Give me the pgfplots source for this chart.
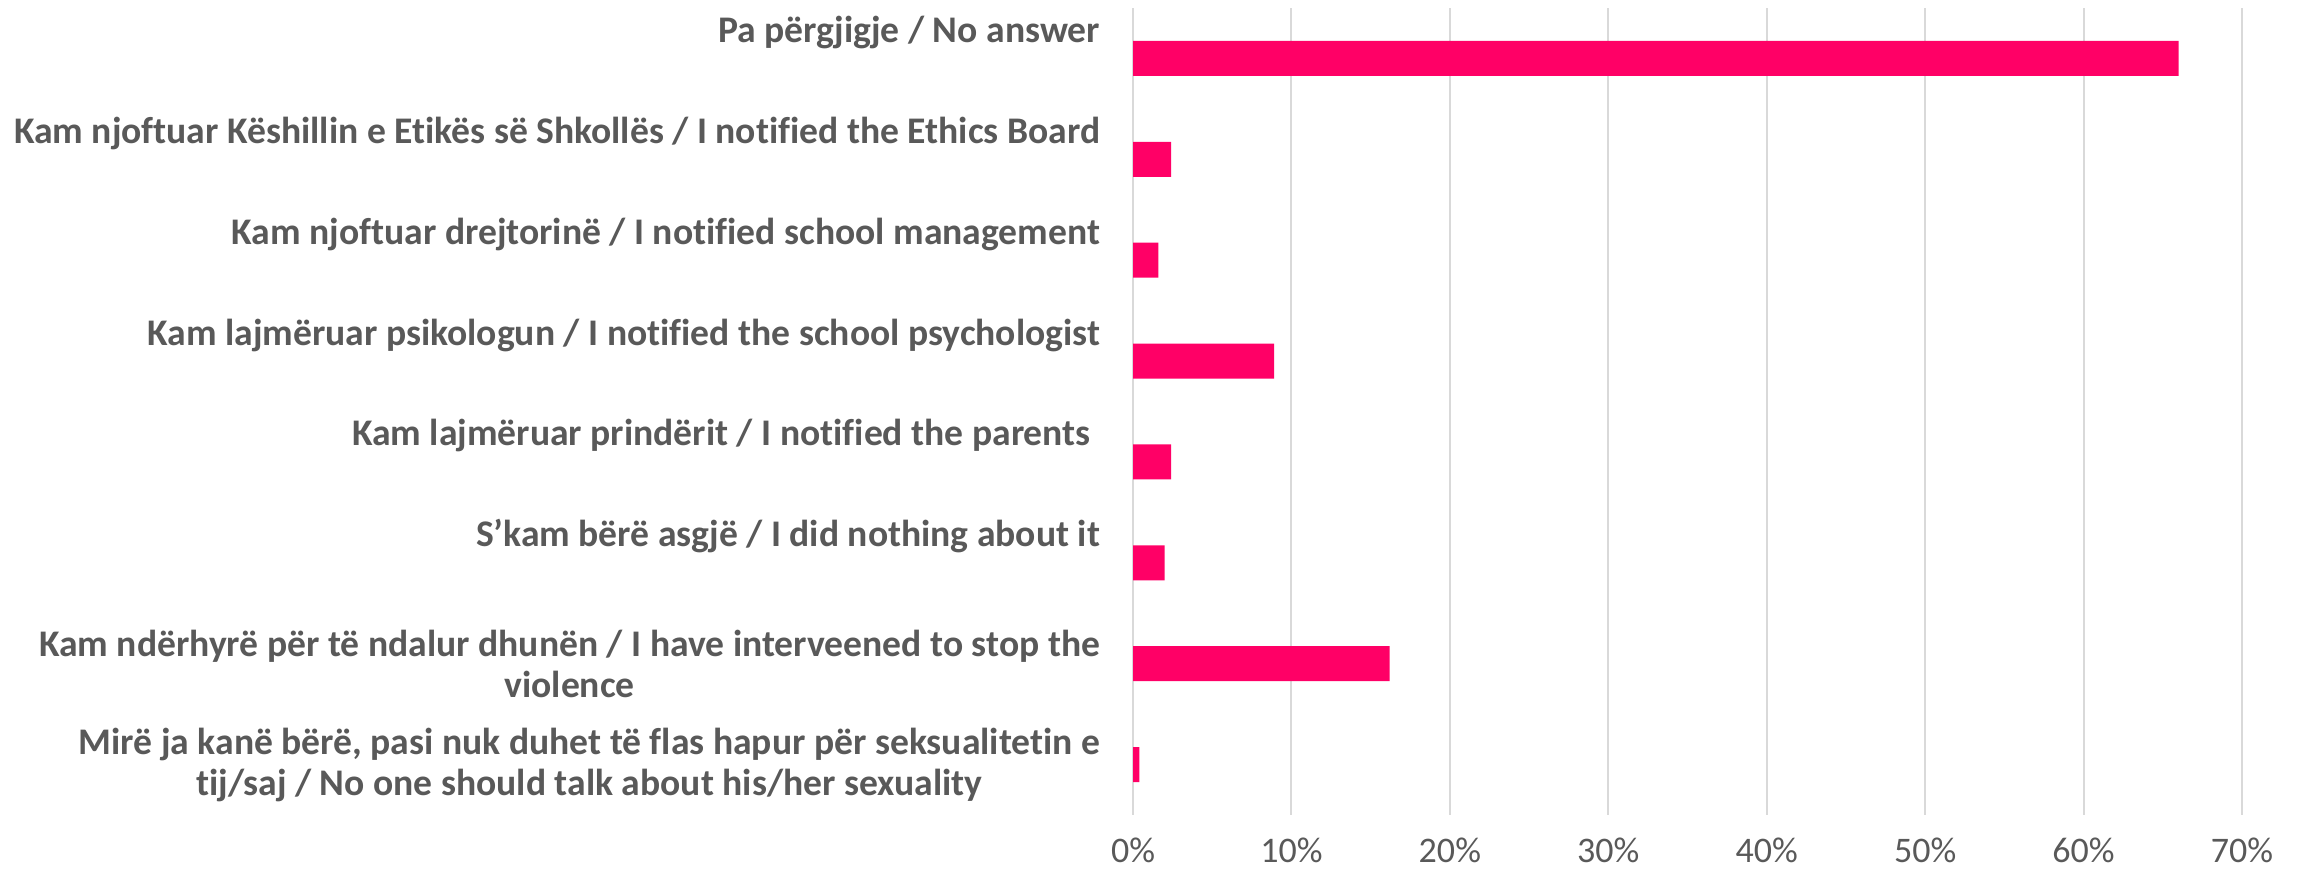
\documentclass[border=0pt]{standalone}
\usepackage{pgfplots}
\pgfplotsset{compat=1.18}
\usepackage{fontspec}
\setmainfont{Carlito}[Ligatures=CommonOff]
\definecolor{barpink}{HTML}{FF0066}
\definecolor{txtgray}{HTML}{595959}
\definecolor{gridgray}{HTML}{D9D9D9}
\newcommand{\one}[1]{\raisebox{8pt}[0pt][0pt]{#1}}
\begin{document}
\begin{tikzpicture}
\path[use as bounding box] (0,0) rectangle (1152.5pt,442pt);
\begin{axis}[
  at={(566.5pt,34.5pt)}, anchor=south west,
  scale only axis, width=554.5pt, height=403.5pt,
  xbar, bar width=17.5pt,
  xmin=0, xmax=70, ymin=-0.5, ymax=7.5, y dir=reverse,
  axis line style={draw=none},
  tick style={draw=none},
  xmajorgrids, major grid style={gridgray, line width=1pt},
  xtick={0,10,...,70},
  xticklabels={0\%,10\%,20\%,30\%,40\%,50\%,60\%,70\%},
  xticklabel style={font=\fontsize{18}{21}\selectfont, text=txtgray, anchor=center, yshift=-17.5pt, inner sep=0pt},
  ytick={0,...,7},
  yticklabels={
    \one{Pa përgjigje / No answer},
    \one{Kam njoftuar Këshillin e Etikës së Shkollës / I notified the Ethics Board},
    \one{Kam njoftuar drejtorinë / I notified school management},
    \one{Kam lajmëruar psikologun / I notified the school psychologist},
    \one{Kam lajmëruar prindërit / I notified the parents\hspace*{0.25em}},
    \one{S’kam bërë asgjë / I did nothing about it},
    {Kam ndërhyrë për të ndalur dhunën / I have interveened to stop the\\violence},
    {Mirë ja kanë bërë, pasi nuk duhet të flas hapur për seksualitetin e\\tij/saj / No one should talk about his/her sexuality}},
  yticklabel style={font=\fontsize{18.8}{20.5}\selectfont\bfseries, text=txtgray, anchor=east, align=center, inner sep=0pt, xshift=-12pt},
]
\addplot[fill=barpink, draw=none] coordinates {
  (66.0,0) (2.4,1) (1.6,2) (8.9,3) (2.4,4) (2.0,5) (16.2,6) (0.4,7)};
\end{axis}
\end{tikzpicture}
\end{document}
